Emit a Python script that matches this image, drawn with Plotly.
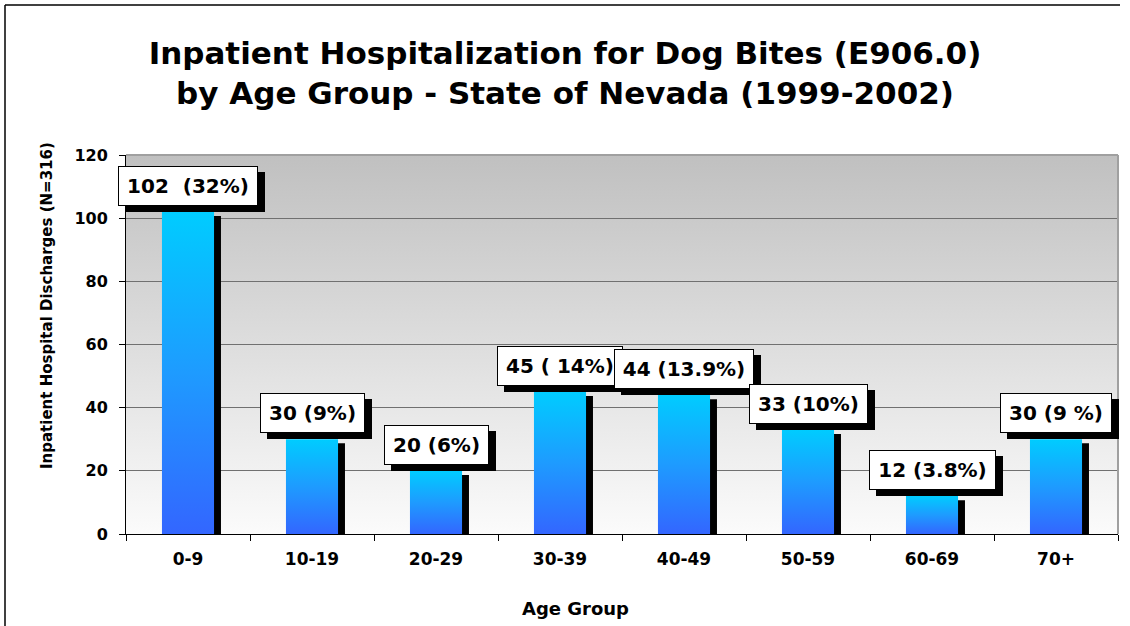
import base64

import plotly.graph_objects as go

age_groups = ["0-9", "10-19", "20-29", "30-39", "40-49", "50-59", "60-69", "70+"]
discharges = [102, 30, 20, 45, 44, 33, 12, 30]
bar_labels = ["102\u00a0\u00a0(32%)", "30 (9%)", "20 (6%)", "45 (\u00a014%)", "44 (13.9%)",
              "33 (10%)", "12 (3.8%)", "30 (9\u00a0%)"]
y_ticks = [0, 20, 40, 60, 80, 100, 120]

W, H = 1130, 626
M_L, M_R, M_T, M_B = 126, 12, 155, 92
PW, PH = W - M_L - M_R, H - M_T - M_B

FONT = "DejaVu Sans"
LABEL_SIZE = 20
BAR_W = 0.42

# rough DejaVu Sans Bold advance widths (em) for sizing the label boxes
GLYPH_EM = {"(": 0.457, ")": 0.457, "%": 1.002, ".": 0.380, " ": 0.348, "\u00a0": 0.348}


def px_x(px):
    return (px - M_L) / PW


def px_y(py):
    return (H - M_B - py) / PH


def text_width(s):
    return sum(GLYPH_EM.get(c, 0.696) for c in s) * LABEL_SIZE


idx = list(range(len(age_groups)))

fig = go.Figure()

# drop shadow behind each bar
fig.add_trace(go.Bar(
    x=[i + 0.056 for i in idx],
    y=[v - 1.3 for v in discharges],
    width=BAR_W,
    marker=dict(color="black", line=dict(width=0)),
    hoverinfo="skip",
    showlegend=False,
))

# the bars themselves, one trace each so the gradient runs per bar
for i, v in zip(idx, discharges):
    x0, x1 = i - BAR_W / 2, i + BAR_W / 2
    fig.add_trace(go.Scatter(
        x=[x0, x0, x1, x1, x0],
        y=[0, v, v, 0, 0],
        mode="none",
        fill="toself",
        fillgradient=dict(type="vertical", colorscale=[[0, "#3366ff"], [0.5, "#1e9bff"], [1, "#00ccff"]]),
        hoverinfo="skip",
        showlegend=False,
    ))

# value labels: black shadow box first, then the white box on top
for i, v, lab in zip(idx, discharges, bar_labels):
    common = dict(x=i, y=v, xref="x", yref="y", showarrow=False, yanchor="bottom",
                  borderwidth=1, borderpad=6, height=26, width=round(text_width(lab)) + 4,
                  font=dict(family=FONT, size=LABEL_SIZE, color="black"))
    fig.add_annotation(**common, text="\u00a0", xshift=7, yshift=0, bgcolor="black", bordercolor="black")
    fig.add_annotation(**common, text=f"<b>{lab}</b>", xshift=0, yshift=6, bgcolor="white", bordercolor="black")

# axis titles
fig.add_annotation(x=px_x(575), y=px_y(621), xref="paper", yref="paper", showarrow=False,
                   text="<b>Age Group</b>", font=dict(family=FONT, size=18, color="black"))
fig.add_annotation(x=px_x(36), y=px_y(306), xref="paper", yref="paper", showarrow=False, textangle=-90,
                   text="<b>Inpatient Hospital Discharges (N=316)</b>",
                   font=dict(family=FONT, size=15, color="black"))

# gray-to-white plot background
svg = ('<svg xmlns="http://www.w3.org/2000/svg" width="10" height="100" viewBox="0 0 10 100" '
       'preserveAspectRatio="none"><defs><linearGradient id="g" x1="0" y1="0" x2="0" y2="1">'
       '<stop offset="0" stop-color="#c0c0c0"/><stop offset="1" stop-color="#fbfbfb"/>'
       '</linearGradient></defs><rect width="10" height="100" fill="url(#g)"/></svg>')
fig.add_layout_image(
    source="data:image/svg+xml;base64," + base64.b64encode(svg.encode()).decode(),
    xref="paper", yref="paper", x=0, y=1, sizex=1, sizey=1,
    sizing="stretch", xanchor="left", yanchor="top", layer="below",
)

# gray top/right edge of plot area
fig.add_shape(type="line", xref="paper", yref="paper", x0=0, x1=1, y0=1, y1=1,
              line=dict(color="#a0a0a0", width=2))
fig.add_shape(type="line", xref="paper", yref="paper", x0=1, x1=1, y0=0, y1=1,
              line=dict(color="#a0a0a0", width=2))

# outer frame (top and left edges)
fig.add_shape(type="line", xref="paper", yref="paper", x0=px_x(5), x1=px_x(1120), y0=px_y(5), y1=px_y(5),
              line=dict(color="black", width=1.5))
fig.add_shape(type="line", xref="paper", yref="paper", x0=px_x(5), x1=px_x(5), y0=px_y(5), y1=px_y(640),
              line=dict(color="black", width=1.5))

fig.update_layout(
    width=W, height=H,
    margin=dict(l=M_L, r=M_R, t=M_T, b=M_B),
    paper_bgcolor="white",
    plot_bgcolor="white",
    barmode="overlay",
    showlegend=False,
    title=dict(
        text="<b>Inpatient Hospitalization for Dog Bites (E906.0)<br>by Age Group - State of Nevada (1999-2002)</b>",
        x=0.5, xref="container", xanchor="center",
        y=1 - 64 / H, yref="container", yanchor="middle",
        font=dict(family=FONT, size=31, color="black"),
    ),
    font=dict(family=FONT, color="black"),
)

fig.update_xaxes(
    range=[-0.5, len(age_groups) - 0.5],
    tickvals=idx,
    ticktext=[f"<b>{g}</b>" for g in age_groups],
    ticks="",
    ticklabelstandoff=10,
    tickfont=dict(family=FONT, size=17, color="black"),
    minor=dict(tickvals=[i - 0.5 for i in idx] + [len(idx) - 0.5], ticks="outside", ticklen=6,
               tickcolor="black", showgrid=False),
    showgrid=False, zeroline=False,
    showline=True, linecolor="black", linewidth=1,
    fixedrange=True,
)
fig.update_yaxes(
    range=[0, 120],
    tickvals=y_ticks,
    ticktext=[f"<b>{t}</b>" for t in y_ticks],
    ticks="outside", ticklen=6, tickcolor="black",
    ticklabelstandoff=8,
    tickfont=dict(family=FONT, size=16, color="black"),
    showgrid=True, gridcolor="#707070", gridwidth=1,
    zeroline=False,
    showline=True, linecolor="black", linewidth=1,
    fixedrange=True,
)

# page body has a default 8px margin; drop it so the figure sits at the window corner
fig.write_html("out.html", config={"displayModeBar": False},
               post_script="document.body.style.margin = '0';")
